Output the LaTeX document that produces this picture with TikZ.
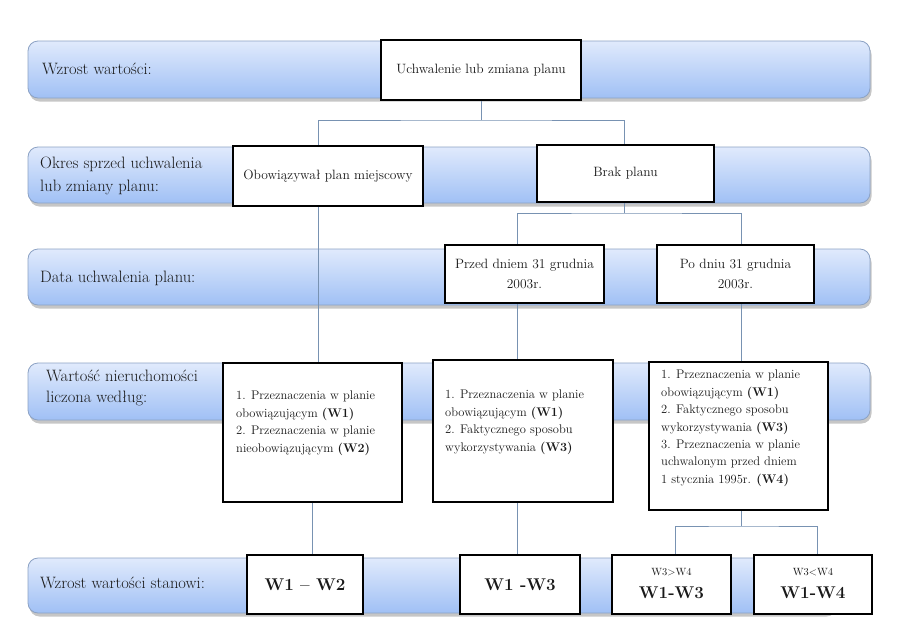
\documentclass[tikz,border=0pt]{standalone}
\usepackage{fontspec}
\usetikzlibrary{shadows}
\definecolor{bandtop}{RGB}{224,234,252}
\definecolor{bandbot}{RGB}{160,192,245}
\definecolor{bandedge}{RGB}{140,162,196}
\definecolor{connc}{RGB}{120,146,178}
\definecolor{ink}{RGB}{25,25,25}
\begin{document}
\begin{tikzpicture}[x=1pt,y=-1pt,
  band/.style={rectangle, rounded corners=10pt, draw=bandedge, line width=0.8pt,
    top color=bandtop, bottom color=bandbot, inner sep=0pt,
    drop shadow={shadow xshift=1.5pt, shadow yshift=-3.5pt, fill=black!50, opacity=0.45}},
  box/.style={rectangle, draw=black, line width=2.4pt, fill=white, inner sep=0pt},
  bandlabel/.style={anchor=west, text=ink, font=\fontsize{16.5}{23}\selectfont, align=left, inner sep=0pt},
  boxtext/.style={text=ink, font=\fontsize{13.5}{20}\selectfont, align=center, inner sep=0pt},
  listtext/.style={anchor=north west, text=ink, font=\fontsize{12.5}{17.4}\selectfont, align=left, inner sep=0pt},
  bigtext/.style={text=ink, font=\fontsize{17}{19}\selectfont\bfseries, inner sep=0pt},
  smalltext/.style={text=ink, font=\fontsize{10.5}{12}\selectfont, inner sep=0pt},
  connector/.style={draw=connc, line width=0.8pt},
]
\useasboundingbox (0,0) rectangle (900,635);

% bands
\node[band, minimum width=842, minimum height=57] (r1) at (449,69.5) {};
\node[band, minimum width=842, minimum height=56] (r2) at (449,175) {};
\node[band, minimum width=842, minimum height=56] (r3) at (449,277) {};
\node[band, minimum width=842, minimum height=57] (r4) at (449,391.5) {};
\node[band, minimum width=807, minimum height=55] (r5) at (431.5,585.5) {};

% band labels
\node[bandlabel] (l1) at (42,69) {Wzrost wartości:};
\node[bandlabel] (l2) at (40,176) {Okres sprzed uchwalenia\\lub zmiany planu:};
\node[bandlabel] (l3) at (40,278) {Data uchwalenia planu:};
\node[bandlabel, font=\fontsize{16.5}{20.5}\selectfont] (l4) at (46,388) {Wartość nieruchomości\\liczona według:};
\node[bandlabel] (l5) at (40,583) {Wzrost wartości stanowi:};

% boxes
\node[box, boxtext, minimum width=200, minimum height=60] (uch) at (481,70) {Uchwalenie lub zmiana planu};
\node[box, boxtext, minimum width=190, minimum height=60] (obo) at (328,176) {Obowiązywał plan miejscowy};
\node[box, boxtext, minimum width=177, minimum height=57] (brak) at (625.5,173.5) {Brak planu};
\node[box, boxtext, minimum width=159, minimum height=58] (przed) at (524.5,274) {Przed dniem 31 grudnia\\2003r.};
\node[box, boxtext, minimum width=157, minimum height=58] (po) at (735.5,274) {Po dniu 31 grudnia\\2003r.};

\node[box, minimum width=179, minimum height=139] (b1) at (312.5,432.5) {};
\node[box, minimum width=180, minimum height=142] (b2) at (523,431) {};
\node[box, minimum width=179, minimum height=148] (b3) at (738.5,436) {};

\node[listtext] (t1) at (236,391) {1. Przeznaczenia w planie\\obowiązującym \textbf{(W1)}\\2. Przeznaczenia w planie\\nieobowiązującym \textbf{(W2)}};
\node[listtext] (t2) at (445,390) {1. Przeznaczenia w planie\\obowiązującym \textbf{(W1)}\\2. Faktycznego sposobu\\wykorzystywania \textbf{(W3)}};
\node[listtext] (t3) at (661,370) {1. Przeznaczenia w planie\\obowiązującym \textbf{(W1)}\\2. Faktycznego sposobu\\wykorzystywania \textbf{(W3)}\\3. Przeznaczenia w planie\\uchwalonym przed dniem\\1 stycznia 1995r. \textbf{(W4)}};

\node[box, bigtext, minimum width=116, minimum height=59] (w12) at (305,584.5) {W1 – W2};
\node[box, bigtext, minimum width=120, minimum height=59] (w13) at (520,584.5) {W1 -W3};
\node[box, minimum width=119, minimum height=59] (w3g) at (671.5,584.5) {};
\node[box, minimum width=118, minimum height=59] (w4g) at (813,584.5) {};
\node[smalltext] (s3) at (671.5,572) {W3>W4};
\node[bigtext] (m3) at (671.5,593) {W1-W3};
\node[smalltext] (s4) at (813,572) {W3<W4};
\node[bigtext] (m4) at (813,593) {W1-W4};

% connector columns and junctions
\coordinate (cA) at (318,0);
\coordinate (cB) at (624,0);
\coordinate (cC) at (517,0);
\coordinate (cD) at (741,0);
\coordinate (cE) at (675,0);
\coordinate (cF) at (817,0);
\coordinate (j1) at (481,120);
\coordinate (j2) at (624,213);
\coordinate (j3) at (741,526);

\draw[connector] (uch.south) -- (j1);
\draw[connector] (cA |- obo.north) |- (j1) -| (cB |- brak.north);
\draw[connector] (cA |- obo.south) -- (cA |- b1.north);
\draw[connector] (cB |- brak.south) -- (j2);
\draw[connector] (cC |- przed.north) |- (j2) -| (cD |- po.north);
\draw[connector] (cC |- przed.south) -- (cC |- b2.north);
\draw[connector] (cD |- po.south) -- (cD |- b3.north);
\draw[connector] (b1.south) -- (b1.south |- w12.north);
\draw[connector] (cC |- b2.south) -- (cC |- w13.north);
\draw[connector] (cD |- b3.south) -- (j3);
\draw[connector] (cE |- w3g.north) |- (j3) -| (cF |- w4g.north);
\end{tikzpicture}
\end{document}
